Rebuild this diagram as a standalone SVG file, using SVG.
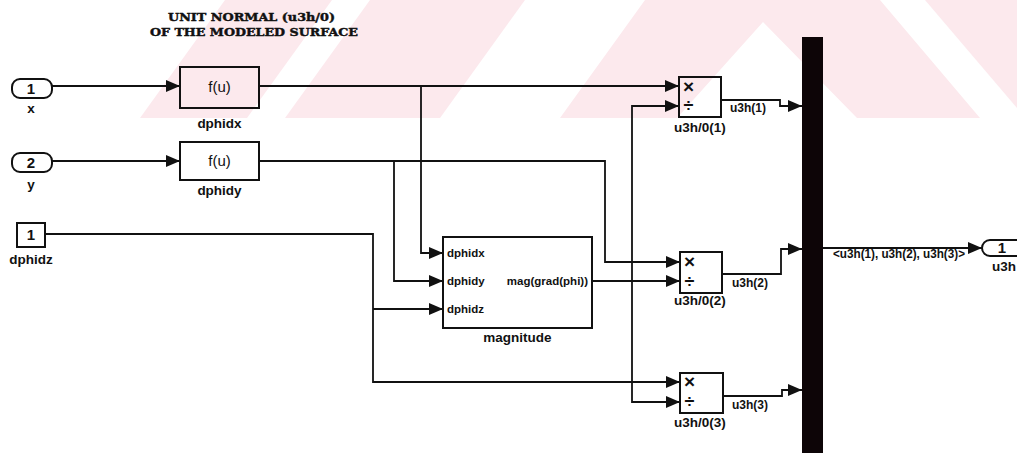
<svg xmlns="http://www.w3.org/2000/svg" width="1017" height="457" viewBox="0 0 1017 457">
<defs>
<style>
.wm{fill:#fce9ed;stroke:none}
.blk{fill:none;stroke:#111;stroke-width:2}
.ln{fill:none;stroke:#111;stroke-width:1.8}
.ar{marker-end:url(#arr)}
text{font-family:"Liberation Sans",Arial,sans-serif;fill:#111}
.nm{font-size:13.5px;font-weight:bold}
.sg{font-size:12px;font-weight:bold}
.pt{font-size:11.5px;font-weight:bold}
.fu{font-size:15px}
.op{font-size:15px;font-weight:bold}
.mx{font-size:19px;font-weight:bold}
.dv{font-size:18px;font-weight:bold}
.ttl{font-family:"DejaVu Serif","Liberation Serif",serif;font-size:11.5px;font-weight:bold;stroke:#111;stroke-width:0.45}
</style>
<marker id="arr" markerUnits="userSpaceOnUse" markerWidth="14" markerHeight="12" refX="14" refY="6" orient="auto" viewBox="0 0 14 12">
<path d="M0,0 L14,6 L0,12 z" fill="#111"/>
</marker>
</defs>
<rect width="1017" height="457" fill="#fff"/>
<g id="watermark">
<polygon class="wm" points="140,118 247,118 332,0 225,0"/>
<polygon class="wm" points="285,118 440,118 525,0 370,0"/>
<polygon class="wm" points="560,118 677,118 763,22 857,118 980,118 880,0 645,0"/>
<polygon class="wm" points="925,0 1017,0 1017,108"/>
</g>
<g id="title">
<text class="ttl" x="168" y="21" textLength="167" lengthAdjust="spacingAndGlyphs">UNIT NORMAL (u3h/0)</text>
<text class="ttl" x="150" y="36" textLength="208" lengthAdjust="spacingAndGlyphs">OF THE MODELED SURFACE</text>
</g>
<g id="connectors">
<path class="ln ar" d="M52,86 H180"/>
<path class="ln ar" d="M259,86 H679"/>
<path class="ln ar" d="M421,86 V253 H443"/>
<path class="ln ar" d="M52,161 H180"/>
<path class="ln ar" d="M259,161 H605 V262 H680"/>
<path class="ln ar" d="M394,161 V281 H443"/>
<path class="ln ar" d="M45,234 H373 V382 H680"/>
<path class="ln ar" d="M373,309 H443"/>
<path class="ln ar" d="M592,281 H680"/>
<path class="ln ar" d="M632,281 V106 H679"/>
<path class="ln ar" d="M632,281 V402 H680"/>
<path class="ln ar" d="M721,100 H780 V106 H802"/>
<path class="ln ar" d="M722,274 H781 V249 H802"/>
<path class="ln ar" d="M723,396 H782 V390 H802"/>
<path class="ln ar" d="M822,248 H982"/>
</g>
<g id="in_x">
<rect class="blk" x="12" y="79" width="40" height="19" rx="8" ry="8"/>
<text class="op" x="31" y="94" text-anchor="middle">1</text>
<text class="nm" x="31" y="113" text-anchor="middle">x</text>
</g>
<g id="in_y">
<rect class="blk" x="12" y="153" width="40" height="19" rx="8" ry="8"/>
<text class="op" x="31" y="168" text-anchor="middle">2</text>
<text class="nm" x="31" y="189" text-anchor="middle">y</text>
</g>
<g id="in_dphidz">
<rect class="blk" x="17" y="223" width="28" height="24"/>
<text class="op" x="31" y="240" text-anchor="middle">1</text>
<text class="nm" x="31" y="264" text-anchor="middle">dphidz</text>
</g>
<g id="dphidx">
<rect class="blk" x="180" y="67" width="79" height="41"/>
<text class="fu" x="219.5" y="92" text-anchor="middle">f(u)</text>
<text class="nm" x="219.5" y="128" text-anchor="middle">dphidx</text>
</g>
<g id="dphidy">
<rect class="blk" x="180" y="142" width="79" height="38"/>
<text class="fu" x="219.5" y="166" text-anchor="middle">f(u)</text>
<text class="nm" x="219.5" y="195" text-anchor="middle">dphidy</text>
</g>
<g id="magnitude">
<rect class="blk" x="443" y="237" width="149" height="91"/>
<text class="pt" x="447" y="257">dphidx</text>
<text class="pt" x="447" y="285">dphidy</text>
<text class="pt" x="447" y="313">dphidz</text>
<text class="pt" x="588" y="285" text-anchor="end">mag(grad(phi))</text>
<text class="nm" x="517.5" y="342" text-anchor="middle">magnitude</text>
</g>
<g id="prod1">
<rect class="blk" x="679" y="77" width="42" height="40"/>
<text class="mx" x="688.5" y="93" text-anchor="middle">×</text>
<text class="dv" x="688.5" y="112" text-anchor="middle">÷</text>
<text class="nm" x="700" y="132" text-anchor="middle">u3h/0(1)</text>
<text class="sg" x="730" y="112">u3h(1)</text>
</g>
<g id="prod2">
<rect class="blk" x="680" y="252" width="42" height="41"/>
<text class="mx" x="689.5" y="268" text-anchor="middle">×</text>
<text class="dv" x="689.5" y="288" text-anchor="middle">÷</text>
<text class="nm" x="700" y="305" text-anchor="middle">u3h/0(2)</text>
<text class="sg" x="732" y="287">u3h(2)</text>
</g>
<g id="prod3">
<rect class="blk" x="680" y="373" width="43" height="40"/>
<text class="mx" x="689.5" y="388" text-anchor="middle">×</text>
<text class="dv" x="689.5" y="408" text-anchor="middle">÷</text>
<text class="nm" x="700" y="427" text-anchor="middle">u3h/0(3)</text>
<text class="sg" x="732" y="409">u3h(3)</text>
</g>
<g id="mux">
<rect x="802" y="37" width="21" height="416" fill="#0d0507"/>
<text class="sg" x="833" y="258" textLength="132" lengthAdjust="spacingAndGlyphs">&lt;u3h(1), u3h(2), u3h(3)&gt;</text>
</g>
<g id="out_u3h">
<rect class="blk" x="982" y="240" width="42" height="16" rx="8" ry="8"/>
<text class="op" x="1002" y="253" text-anchor="middle">1</text>
<text class="nm" x="1004" y="271" text-anchor="middle">u3h</text>
</g>
</svg>
